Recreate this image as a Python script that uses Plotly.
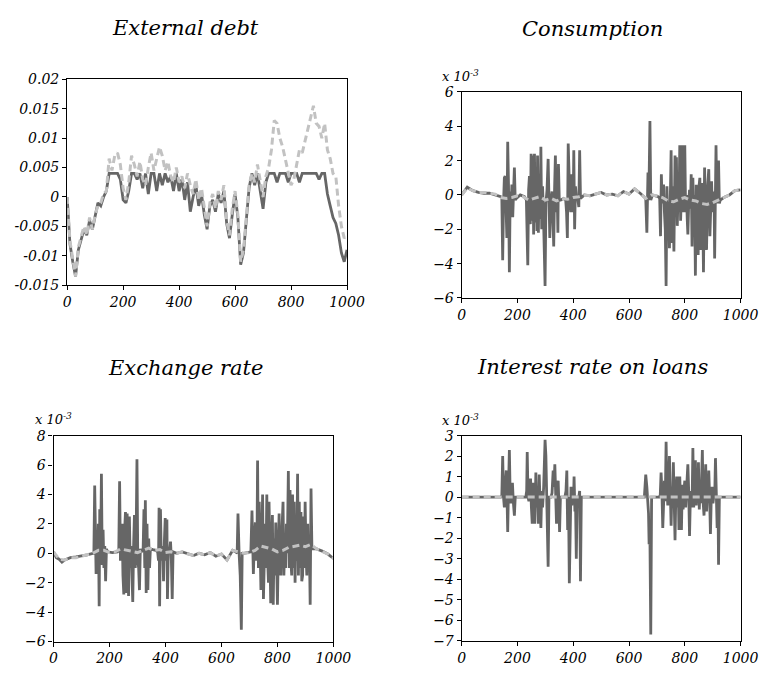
import plotly.graph_objects as go

W, H = 778, 674

# ---------------- data ----------------
grid10 = list(range(0, 1001, 10))
grid20 = list(range(0, 1001, 20))

# External debt (values in units of 1e-3, converted below)
debt_light_e3 = [0.0, -7.5, -10.5, -13.5, -8.5, -6.5, -5.0, -6.5, -3.5, -5.5,
                 -3.0, -1.5, -1.0, 0.5, 1.0, 6.5, 4.5, 7.0, 7.5, 5.5,
                 1.5, -0.5, 2.5, 7.0, 5.5, 3.5, 6.0, 3.0, 2.0, 5.0,
                 7.5, 4.5, 6.5, 8.5, 7.0, 4.5, 6.0, 3.5, 2.5, 5.0,
                 2.5, 3.5, 1.5, 4.0, 2.0, 0.5, 3.0, -0.5, 1.5, -2.0,
                 -5.0, -1.0, 0.5, -2.0, 1.0, -0.5, 2.0, -4.0, -6.5, -2.0,
                 1.0, -3.0, -11.0, -9.0, -3.5, 2.0, 4.0, 2.5, 5.5, 2.5,
                 0.0, 3.5, 5.0, 8.0, 13.0, 12.5, 10.0, 8.5, 6.5, 4.0,
                 2.0, 3.0, 5.5, 8.0, 7.5, 9.5, 11.5, 13.5, 15.5, 12.5,
                 12.0, 10.0, 12.5, 8.0, 6.5, 4.0, 3.5, -1.5, -5.0, -7.0,
                 -6.5]
debt_dark_e3 = [0.0, -8.0, -11.0, -13.5, -9.0, -7.0, -5.5, -6.5, -4.0, -5.5,
                -3.0, -1.0, -1.5, 0.0, 1.0, 4.0, 4.0, 4.0, 4.0, 3.0,
                -0.5, -1.0, 1.0, 4.0, 4.0, 3.0, 4.0, 1.5, 4.0, 0.5,
                4.0, 4.0, 1.0, 4.0, 2.0, 4.0, 2.5, 3.5, 1.0, 4.0,
                1.0, 3.0, -0.5, 2.5, -2.5, 0.0, 2.0, -1.5, 0.5, -3.0,
                -5.5, -1.5, -0.5, -2.5, 0.5, -1.0, 1.0, -4.5, -7.0, -3.0,
                0.5, -3.5, -11.5, -9.5, -4.0, 1.5, 4.0, 2.0, 4.0, 1.0,
                -2.0, 2.5, 4.0, 4.0, 4.0, 2.5, 4.0, 4.0, 4.0, 2.5,
                4.0, 4.0, 4.0, 2.5, 4.0, 4.0, 4.0, 4.0, 4.0, 4.0,
                3.0, 4.0, 4.0, 0.5, -1.5, -3.5, -4.5, -6.5, -9.5, -11.0,
                -9.0]

# Consumption (x 10^-3)
cons_light = [0.0, 0.4, 0.25, 0.15, 0.15, 0.1, 0.05, -0.15, -0.2, -0.15,
              -0.05, -0.1, -0.3, -0.2, -0.1, -0.3, -0.2, -0.35, -0.2, -0.25,
              -0.15, -0.1, 0.0, -0.05, 0.05, 0.15, 0.0, 0.05, -0.05, 0.2,
              0.05, 0.35, 0.1, -0.2, 0.0, -0.05, -0.15, -0.35, -0.4, -0.25,
              -0.15, -0.3, -0.35, -0.5, -0.55, -0.45, -0.3, -0.15, 0.0, 0.25,
              0.3]
cons_dark_x = [0, 20, 40, 60, 80, 100, 120, 140,
               144, 147, 150, 153, 156, 159, 162, 165, 168, 171, 174, 177, 180, 183, 186, 189, 192, 196,
               210, 225,
               232, 237, 240, 243, 246, 249, 252, 255, 258, 261, 264, 267, 270, 272, 275, 278, 281, 284,
               287, 290, 293, 296, 299, 302, 306, 310, 313, 316, 320, 324, 327, 330, 333, 336, 339, 342,
               345, 347, 350, 355, 365, 373, 376, 379, 382, 385, 388, 391, 394, 397, 400, 402, 405, 408,
               412, 416, 420, 423, 426,
               440, 460, 480, 500, 520, 540, 560, 580, 600, 620, 640, 655,
               660, 664, 668, 671, 675, 678, 684, 695, 705, 710, 713, 716, 719, 722, 724, 727, 730, 733,
               736, 739, 742, 745, 748, 751, 754, 757, 759, 761, 765, 768, 770, 773, 776, 779, 782, 785,
               788, 791, 794, 797, 800, 803, 806, 809, 811, 814, 817, 820, 823, 826, 829, 832, 835, 838,
               841, 844, 848, 851, 854, 857, 860, 863, 867, 871, 874, 878, 882, 886, 890, 893, 896, 899,
               902, 905, 907, 910, 912, 915, 918, 921, 924, 927,
               940, 960, 980, 1000]
cons_dark_y = [0.0, 0.45, 0.25, 0.15, 0.1, 0.1, 0.0, -0.1,
               -0.2, -3.8, -0.5, 1.0, 1.1, -1.0, -2.5, 3.1, 0.5, -4.5, 0.2, -1.0, 0.6, -1.3, 1.0, 1.6, -0.3, -0.2,
               0.0, -0.1,
               -0.3, -4.1, 0.3, 1.1, -1.7, 2.4, -1.5, 2.3, -2.3, 2.4, -1.6, 0.8, -2.1, 2.3, -2.2, 1.0, -1.4, 2.8,
               -2.0, 0.5, -1.0, -3.5, -5.3, -0.5, 0.3, 2.1, -0.5, -2.5, -0.3, 0.2, -1.2, -3.0, 0.3, 2.3, -1.0, 0.5,
               -2.2, 1.8, -0.3, -0.3, -0.2, -0.3, -1.0, -2.5, 3.0, 0.5, -0.5, -1.0, 1.2, -1.0, -0.3, 2.6, -2.0, 0.5,
               -0.3, -0.2, -0.7, 2.6, -0.2,
               0.0, -0.05, 0.05, 0.15, 0.0, 0.05, -0.05, 0.2, 0.05, 0.35, 0.1, -0.1,
               -0.2, -2.2, 1.3, -0.3, 4.3, -0.3, 0.0, -0.05, -0.1, -0.2, -2.4, 1.2, -0.5, 0.4, 0.6, -1.0, -2.0, -5.3,
               0.5, -1.5, -0.4, -3.1, 0.0, 2.6, -2.8, 0.5, -1.5, -3.3, 2.3, -0.5, 2.2, -1.8, 0.0, -1.0, 2.9, -1.5,
               0.2, 2.9, -1.0, 0.5, 2.9, -1.0, 0.0, -1.5, -2.3, -0.5, 0.3, -0.8, 1.2, -3.0, 1.0, -1.5, 0.0, -4.7,
               0.6, -1.5, -3.5, 0.5, 1.0, -3.2, -0.5, 0.7, -4.5, 1.6, -1.0, -3.2, 0.5, 1.5, -2.4, 0.0, 0.8, -1.0,
               -0.5, 0.2, -3.7, 0.5, 2.9, -0.5, 0.3, 2.0, -0.5, -0.3,
               -0.15, 0.0, 0.25, 0.3]

# Exchange rate (x 10^-3)
exch_light = [0.1, -0.4, -0.45, -0.3, -0.3, -0.2, -0.15, 0.0, 0.2, 0.2,
              0.05, 0.1, 0.3, 0.2, 0.1, 0.05, 0.2, 0.35, 0.2, 0.25,
              0.05, 0.1, 0.0, 0.1, -0.05, -0.15, 0.0, -0.1, 0.05, -0.2,
              -0.05, -0.45, 0.2, 0.1, 0.0, 0.05, 0.2, 0.5, 0.4, 0.3,
              0.1, 0.2, 0.4, 0.5, 0.55, 0.45, 0.6, 0.3, 0.15, -0.05,
              -0.35]
exch_dark_x = [0, 10, 20, 30, 40, 60, 80, 100, 120, 140,
               144, 147, 150, 152, 155, 158, 160, 163, 165, 168, 171, 174, 177, 180, 183, 186, 189, 193,
               210, 228,
               233, 236, 239, 242, 245, 248, 251, 254, 257, 260, 263, 266, 268, 271, 274, 277, 280, 283,
               286, 289, 292, 295, 298, 301, 304, 307, 310, 313, 320, 323, 326, 328, 331, 334, 337, 340,
               343, 346, 355, 365, 372, 375, 377, 379, 382, 385, 390, 393, 396, 399, 402, 405, 407, 410,
               414, 418, 421, 424, 427,
               440, 460, 480, 500, 520, 540, 560, 580, 600, 620, 640, 652,
               656, 659, 663, 667, 671, 674, 680, 695, 705, 709, 712, 714, 717, 721, 724, 727, 729, 732,
               735, 738, 741, 744, 747, 750, 753, 756, 759, 762, 765, 768, 770, 773, 776, 779, 782, 785,
               788, 791, 794, 797, 800, 803, 806, 809, 812, 815, 817, 820, 823, 826, 829, 832, 835, 839,
               842, 845, 848, 851, 854, 857, 860, 863, 866, 869, 872, 875, 878, 881, 884, 887, 890, 893,
               896, 899, 902, 905, 908, 911, 914, 917, 920, 923, 927,
               940, 960, 980, 1000]
exch_dark_y = [0.1, -0.3, -0.4, -0.6, -0.45, -0.3, -0.25, -0.2, -0.1, 0.0,
               0.0, 4.6, -0.5, -1.4, 1.5, -0.3, 2.0, -3.6, 3.0, -0.5, 5.4, -0.8, 1.6, -1.0, 0.5, -1.9, 0.3, 0.1,
               0.05, 0.1,
               0.2, 4.9, -0.5, 1.0, 2.0, -1.5, -2.8, 1.6, 2.8, -2.7, 2.7, -1.0, -2.9, 2.5, -1.0, 0.5, -2.0, -3.3,
               0.5, 2.6, -1.0, 1.0, 6.4, -0.5, -1.0, -2.5, 0.3, 0.1, 0.2, 3.0, -1.0, 3.6, -2.7, 2.0, -2.5, 1.0,
               -1.0, 0.3, 0.25, 0.2, 0.1, -0.5, 3.1, -3.6, 3.0, -0.5, 0.5, -1.9, 0.8, 2.4, -0.5, 2.3, -3.1, 0.2,
               0.1, 0.8, -0.5, -3.1, 0.1,
               0.0, 0.1, -0.05, -0.15, 0.0, -0.1, 0.05, -0.2, -0.05, -0.45, 0.2, 0.1,
               0.0, 2.7, 0.0, -1.5, -5.2, 0.0, 0.0, 0.05, 0.1, 2.9, -0.5, -1.4, 0.5, 2.1, -0.5, 1.0, 6.3, -1.0,
               3.5, -0.8, -2.5, 0.5, 4.0, -3.1, 0.5, 2.0, -1.0, 4.0, -0.5, -2.0, 3.5, -1.0, -3.4, 0.5, 2.6, -3.5,
               1.0, -1.5, 2.1, -0.5, -3.5, 0.0, 2.7, -1.0, -1.5, 1.0, 3.0, 3.5, -1.5, 0.5, -1.0, 2.0, 0.0, 5.6,
               -1.0, 4.3, -0.5, -1.5, 4.0, -1.0, 3.5, -2.0, 2.0, -0.5, 5.4, -1.5, 3.5, -1.0, 2.8, -1.9, -1.5, 2.5,
               -1.0, 3.5, 0.0, -1.5, 2.0, -1.0, 0.5, -3.5, 4.4, 0.5, 0.3,
               0.3, 0.15, -0.05, -0.35]

# Interest rate on loans (x 10^-3)
rate_light_x = [0, 100, 200, 300, 400, 500, 600, 700, 800, 900, 1000]
rate_light = [0.0, 0.0, 0.0, 0.0, 0.0, 0.0, 0.0, 0.0, 0.0, 0.0, 0.0]
rate_dark_x = [0, 140,
               144, 147, 150, 153, 156, 160, 163, 165, 168, 171, 174, 177, 180, 182, 185, 189, 192, 196,
               230, 233, 235, 238, 241, 244, 247, 250, 253, 256, 259, 262, 266, 269, 272, 275, 278, 281,
               284, 287, 290, 294, 297, 299, 302, 305, 308, 310, 313, 320, 324, 328, 331, 334, 337, 340,
               343, 346, 349, 351, 354, 370, 374, 377, 380, 383, 386, 389, 392, 395, 398, 401, 403, 406,
               408, 411, 414, 420, 423, 426, 429,
               655, 660, 664, 667, 670, 672, 675, 678, 681,
               708, 712, 715, 718, 721, 724, 727, 730, 733, 736, 739, 742, 745, 748, 751, 754, 757, 759,
               762, 765, 768, 771, 773, 776, 779, 782, 785, 788, 791, 794, 797, 800, 803, 806, 811, 814,
               817, 820, 823, 826, 829, 832, 835, 838, 841, 844, 847, 849, 852, 855, 858, 860, 863, 866,
               869, 872, 875, 878, 881, 884, 886, 889, 892, 895, 898, 901, 905, 908, 910, 913, 916, 919,
               921, 924, 927, 1000]
rate_dark_y = [0.0, 0.0,
               0.1, 2.0, 0.0, -0.5, 0.5, 1.3, -0.3, -1.7, 0.5, 2.3, 0.0, -0.3, 0.3, 0.7, -0.2, -0.9, 0.0, 0.0,
               0.0, 0.3, 2.2, 0.0, -0.2, 0.5, 0.9, -0.5, -1.3, 0.7, -0.2, -1.3, 1.2, -0.5, 0.5, -1.3, 1.1, -0.5,
               -1.5, 0.3, -0.5, 0.5, 1.5, 2.8, 2.0, 0.3, -1.0, -3.4, 0.0, 0.0, 0.2, 1.3, 0.5, 1.6, 0.2, -1.3,
               0.2, 0.8, -0.5, -1.7, 0.0, 0.0, 0.3, 1.3, -1.6, 0.0, -4.2, 0.0, 0.5, -0.4, 0.4, -0.2, 1.0, -0.7,
               0.0, -3.0, 0.0, 0.0, 0.3, -4.1, 0.0,
               0.0, 1.1, 0.5, -0.3, -0.8, -2.3, -2.0, -6.7, 0.0,
               0.0, 0.1, 1.2, 0.3, -1.5, 0.2, 0.8, -0.2, 2.7, 0.5, -0.4, 0.5, 2.0, 0.3, -1.4, 0.5, -0.3, 1.7,
               0.0, -2.1, 0.2, 1.0, -0.5, 1.0, -1.6, 1.0, -0.5, -1.6, 0.6, -0.6, 0.3, 0.8, -0.5, 0.5, 1.6, 0.3,
               -1.9, 0.0, 0.3, -0.5, 2.4, -0.5, 0.5, 1.8, -0.4, 0.5, -0.2, 1.7, -0.6, 0.5, -0.3, 0.4, 2.3, -0.3,
               -0.9, 0.3, 1.6, -0.7, 0.3, -0.2, 1.3, 0.0, -1.8, 0.0, 0.5, -0.3, 0.2, 0.5, 1.9, 0.3, -1.5, 0.0,
               -3.3, 0.0, 0.0, 0.0]

x_ticks = [0, 200, 400, 600, 800, 1000]
debt_ticks = [-0.015, -0.01, -0.005, 0, 0.005, 0.01, 0.015, 0.02]
debt_tick_text = ["-0.015", "-0.01", "-0.005", "0", "0.005", "0.01", "0.015", "0.02"]

titles = ["External debt", "Consumption", "Exchange rate", "Interest rate on loans"]

# ---------------- styling ----------------
DARK = "#666666"
LIGHT = "#c2c2c2"
FONT = "DejaVu Serif"

def px_x(p):
    return p / W

def px_y(p):
    return 1 - p / H

# panel boxes in pixels: (left, right, top, bottom)
boxes = [(65, 353, 73, 284), (471, 758, 86, 297), (51, 339, 438, 649), (471, 758, 438, 648)]

fig = go.Figure()

panels = [
    (grid10, debt_dark_e3, grid10, debt_light_e3, 1e-3),
    (cons_dark_x, cons_dark_y, grid20, cons_light, 1.0),
    (exch_dark_x, exch_dark_y, grid20, exch_light, 1.0),
    (rate_dark_x, rate_dark_y, rate_light_x, rate_light, 1.0),
]

for i, (dx, dy, lx, ly, sc) in enumerate(panels):
    n = i + 1
    xa = "x" if n == 1 else f"x{n}"
    ya = "y" if n == 1 else f"y{n}"
    fig.add_trace(go.Scatter(x=dx, y=[v * sc for v in dy], mode="lines",
                             line=dict(color=DARK, width=2.8), xaxis=xa, yaxis=ya,
                             showlegend=False, hoverinfo="skip"))
    fig.add_trace(go.Scatter(x=lx, y=[v * sc for v in ly], mode="lines",
                             line=dict(color=LIGHT, width=3, dash="7px,4px"), xaxis=xa, yaxis=ya,
                             showlegend=False, hoverinfo="skip"))

tickfont = dict(family=FONT, size=14, color="black", style="italic")
common_axis = dict(showline=True, linecolor="black", linewidth=1.2, mirror=True,
                   ticks="outside", ticklen=4, tickcolor="black", showgrid=False,
                   zeroline=False, tickfont=tickfont)

yranges = [(-0.015, 0.02), (-6, 6), (-6, 8), (-7, 3)]
ydticks = [None, 2, 2, 1]

layout = {}
for i, (l, r, t, b) in enumerate(boxes):
    n = i + 1
    xk = "xaxis" if n == 1 else f"xaxis{n}"
    yk = "yaxis" if n == 1 else f"yaxis{n}"
    xa_anchor = "y" if n == 1 else f"y{n}"
    ya_anchor = "x" if n == 1 else f"x{n}"
    layout[xk] = dict(common_axis, domain=[px_x(l), px_x(r)], range=[0, 1000],
                      tickvals=x_ticks, anchor=xa_anchor)
    ydict = dict(common_axis, domain=[px_y(b), px_y(t)], range=list(yranges[i]),
                 anchor=ya_anchor)
    if i == 0:
        ydict.update(tickvals=debt_ticks, ticktext=debt_tick_text)
    else:
        ydict.update(tick0=0, dtick=ydticks[i])
    layout[yk] = ydict

fig.update_layout(**layout)

annotations = []
title_pos = [(187, 20), (606, 21), (187, 369), (606, 368)]
for txt, (cx, cy) in zip(titles, title_pos):
    annotations.append(dict(text=txt, x=px_x(cx), y=px_y(cy), xref="paper", yref="paper",
                            xanchor="center", yanchor="middle", showarrow=False,
                            font=dict(family=FONT, size=21, color="black", style="italic")))
for (lx, cy) in [(449, 70), (30, 421), (449, 422)]:
    annotations.append(dict(text="x 10<sup>-3</sup>", x=px_x(lx), y=px_y(cy), xref="paper",
                            yref="paper", xanchor="left", yanchor="middle", showarrow=False,
                            font=dict(family=FONT, size=13, color="black", style="italic")))

fig.update_layout(width=W, height=H, margin=dict(l=0, r=0, t=0, b=0),
                  paper_bgcolor="white", plot_bgcolor="white",
                  annotations=annotations, showlegend=False)

fig.write_html("out.html")
